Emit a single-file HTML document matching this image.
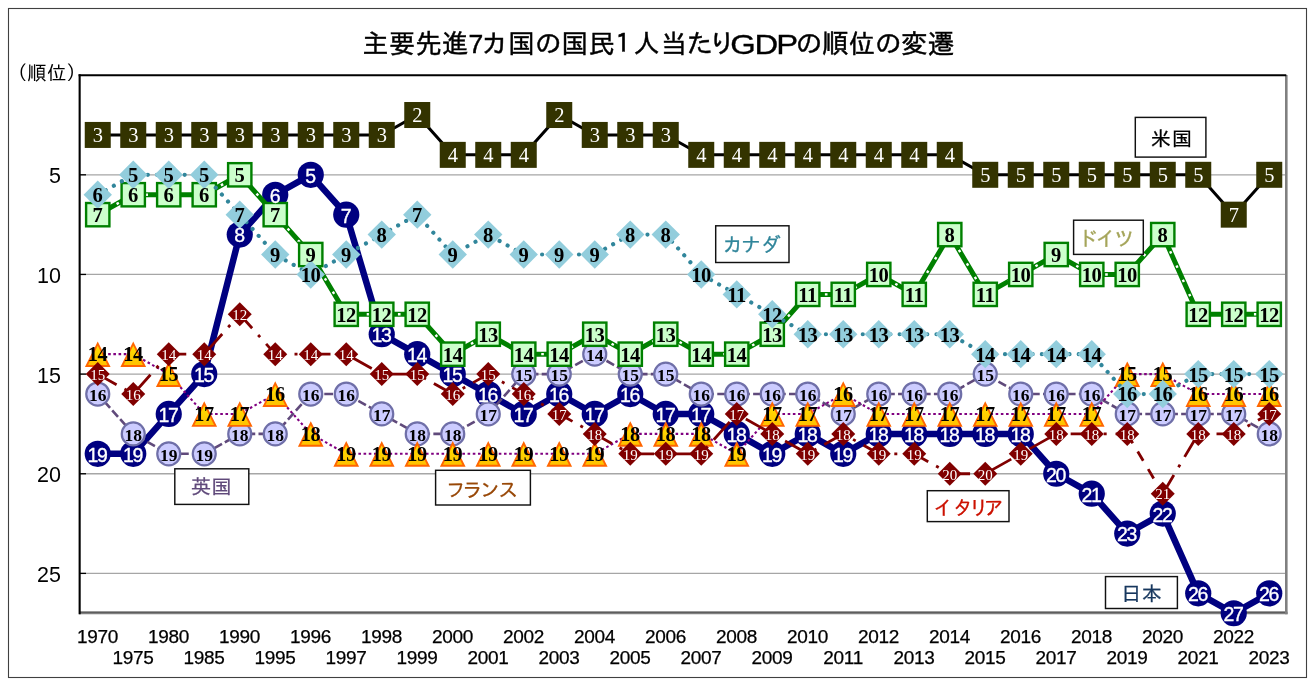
<!DOCTYPE html>
<html lang="ja"><head><meta charset="utf-8">
<title>主要先進7カ国の国民１人当たりGDPの順位の変遷</title>
<style>
html,body{margin:0;padding:0;background:#fff;}
body{width:1312px;height:682px;overflow:hidden;}
svg{display:block;}
text{font-family:"Liberation Sans","IPAGothic",sans-serif;}
.ser{font-family:"Liberation Serif",serif;}
.serb{font-family:"Liberation Serif",serif;font-weight:bold;}
.san{font-family:"Liberation Sans",sans-serif;}
.jp{font-family:"Liberation Sans","IPAGothic",sans-serif;}
</style></head><body>
<svg width="1312" height="682" viewBox="0 0 1312 682">
<rect x="0" y="0" width="1312" height="682" fill="#fff"/>
<rect x="8.5" y="8.5" width="1298" height="669" fill="none" stroke="#404040" stroke-width="1.1"/>
<g id="chart-title"><text class="jp" x="375.4 402 428.6 455 475.8 494.7 521.3 547.9 574.5 601.7 622.9 646.5 673.7 699.7 722.1" y="53.4" font-size="26.5" text-anchor="middle" fill="#000" stroke="#000" stroke-width="0.45">主要先進7カ国の国民１人当たり</text><text class="san" transform="translate(0,53.5) scale(1.24,1.07)" x="599.19 617.98 634.76" y="0" font-size="26.5" text-anchor="middle" fill="#000" stroke="#000" stroke-width="0.3">GDP</text><text class="jp" x="808.7 835.5 861.8 888.1 914.2 940.7" y="53.4" font-size="26.5" text-anchor="middle" fill="#000" stroke="#000" stroke-width="0.45">の順位の変遷</text></g>
<text class="jp" x="46.7" y="80.3" font-size="19.5" text-anchor="middle" fill="#000">（順位）</text>
<line x1="80" y1="174.8" x2="1286.5" y2="174.8" stroke="#a6a6a6" stroke-width="1.3"/>
<line x1="80" y1="174.8" x2="86" y2="174.8" stroke="#000" stroke-width="1.3"/>
<text class="san" x="61" y="183.4" font-size="21.5" text-anchor="end" fill="#000">5</text>
<line x1="80" y1="274.45" x2="1286.5" y2="274.45" stroke="#a6a6a6" stroke-width="1.3"/>
<line x1="80" y1="274.45" x2="86" y2="274.45" stroke="#000" stroke-width="1.3"/>
<text class="san" x="61" y="283.05" font-size="21.5" text-anchor="end" fill="#000">10</text>
<line x1="80" y1="374.1" x2="1286.5" y2="374.1" stroke="#a6a6a6" stroke-width="1.3"/>
<line x1="80" y1="374.1" x2="86" y2="374.1" stroke="#000" stroke-width="1.3"/>
<text class="san" x="61" y="382.7" font-size="21.5" text-anchor="end" fill="#000">15</text>
<line x1="80" y1="473.75" x2="1286.5" y2="473.75" stroke="#a6a6a6" stroke-width="1.3"/>
<line x1="80" y1="473.75" x2="86" y2="473.75" stroke="#000" stroke-width="1.3"/>
<text class="san" x="61" y="482.35" font-size="21.5" text-anchor="end" fill="#000">20</text>
<line x1="80" y1="573.4" x2="1286.5" y2="573.4" stroke="#a6a6a6" stroke-width="1.3"/>
<line x1="80" y1="573.4" x2="86" y2="573.4" stroke="#000" stroke-width="1.3"/>
<text class="san" x="61" y="582" font-size="21.5" text-anchor="end" fill="#000">25</text>
<line x1="1286.3" y1="75" x2="1286.3" y2="614.3" stroke="#808080" stroke-width="2.6"/>
<line x1="79" y1="613" x2="1287.6" y2="613" stroke="#808080" stroke-width="2.6"/>
<line x1="79" y1="612" x2="1285" y2="612" stroke="#202020" stroke-width="0.9" stroke-opacity="0.8"/>
<line x1="78.6" y1="75.3" x2="1286.3" y2="75.3" stroke="#000" stroke-width="2.1"/>
<line x1="79.65" y1="74.3" x2="79.65" y2="614.3" stroke="#000" stroke-width="2.1"/>
<text class="san" x="97.6" y="643" font-size="19" letter-spacing="-0.3" text-anchor="middle" fill="#000" stroke="#000" stroke-width="0.25">1970</text>
<text class="san" x="133.1" y="663.7" font-size="19" letter-spacing="-0.3" text-anchor="middle" fill="#000" stroke="#000" stroke-width="0.25">1975</text>
<text class="san" x="168.6" y="643" font-size="19" letter-spacing="-0.3" text-anchor="middle" fill="#000" stroke="#000" stroke-width="0.25">1980</text>
<text class="san" x="204.1" y="663.7" font-size="19" letter-spacing="-0.3" text-anchor="middle" fill="#000" stroke="#000" stroke-width="0.25">1985</text>
<text class="san" x="239.6" y="643" font-size="19" letter-spacing="-0.3" text-anchor="middle" fill="#000" stroke="#000" stroke-width="0.25">1990</text>
<text class="san" x="275.1" y="663.7" font-size="19" letter-spacing="-0.3" text-anchor="middle" fill="#000" stroke="#000" stroke-width="0.25">1995</text>
<text class="san" x="310.6" y="643" font-size="19" letter-spacing="-0.3" text-anchor="middle" fill="#000" stroke="#000" stroke-width="0.25">1996</text>
<text class="san" x="346.1" y="663.7" font-size="19" letter-spacing="-0.3" text-anchor="middle" fill="#000" stroke="#000" stroke-width="0.25">1997</text>
<text class="san" x="381.6" y="643" font-size="19" letter-spacing="-0.3" text-anchor="middle" fill="#000" stroke="#000" stroke-width="0.25">1998</text>
<text class="san" x="417.1" y="663.7" font-size="19" letter-spacing="-0.3" text-anchor="middle" fill="#000" stroke="#000" stroke-width="0.25">1999</text>
<text class="san" x="452.6" y="643" font-size="19" letter-spacing="-0.3" text-anchor="middle" fill="#000" stroke="#000" stroke-width="0.25">2000</text>
<text class="san" x="488.1" y="663.7" font-size="19" letter-spacing="-0.3" text-anchor="middle" fill="#000" stroke="#000" stroke-width="0.25">2001</text>
<text class="san" x="523.6" y="643" font-size="19" letter-spacing="-0.3" text-anchor="middle" fill="#000" stroke="#000" stroke-width="0.25">2002</text>
<text class="san" x="559.1" y="663.7" font-size="19" letter-spacing="-0.3" text-anchor="middle" fill="#000" stroke="#000" stroke-width="0.25">2003</text>
<text class="san" x="594.6" y="643" font-size="19" letter-spacing="-0.3" text-anchor="middle" fill="#000" stroke="#000" stroke-width="0.25">2004</text>
<text class="san" x="630.1" y="663.7" font-size="19" letter-spacing="-0.3" text-anchor="middle" fill="#000" stroke="#000" stroke-width="0.25">2005</text>
<text class="san" x="665.6" y="643" font-size="19" letter-spacing="-0.3" text-anchor="middle" fill="#000" stroke="#000" stroke-width="0.25">2006</text>
<text class="san" x="701.1" y="663.7" font-size="19" letter-spacing="-0.3" text-anchor="middle" fill="#000" stroke="#000" stroke-width="0.25">2007</text>
<text class="san" x="736.6" y="643" font-size="19" letter-spacing="-0.3" text-anchor="middle" fill="#000" stroke="#000" stroke-width="0.25">2008</text>
<text class="san" x="772.1" y="663.7" font-size="19" letter-spacing="-0.3" text-anchor="middle" fill="#000" stroke="#000" stroke-width="0.25">2009</text>
<text class="san" x="807.6" y="643" font-size="19" letter-spacing="-0.3" text-anchor="middle" fill="#000" stroke="#000" stroke-width="0.25">2010</text>
<text class="san" x="843.1" y="663.7" font-size="19" letter-spacing="-0.3" text-anchor="middle" fill="#000" stroke="#000" stroke-width="0.25">2011</text>
<text class="san" x="878.6" y="643" font-size="19" letter-spacing="-0.3" text-anchor="middle" fill="#000" stroke="#000" stroke-width="0.25">2012</text>
<text class="san" x="914.1" y="663.7" font-size="19" letter-spacing="-0.3" text-anchor="middle" fill="#000" stroke="#000" stroke-width="0.25">2013</text>
<text class="san" x="949.6" y="643" font-size="19" letter-spacing="-0.3" text-anchor="middle" fill="#000" stroke="#000" stroke-width="0.25">2014</text>
<text class="san" x="985.1" y="663.7" font-size="19" letter-spacing="-0.3" text-anchor="middle" fill="#000" stroke="#000" stroke-width="0.25">2015</text>
<text class="san" x="1020.6" y="643" font-size="19" letter-spacing="-0.3" text-anchor="middle" fill="#000" stroke="#000" stroke-width="0.25">2016</text>
<text class="san" x="1056.1" y="663.7" font-size="19" letter-spacing="-0.3" text-anchor="middle" fill="#000" stroke="#000" stroke-width="0.25">2017</text>
<text class="san" x="1091.6" y="643" font-size="19" letter-spacing="-0.3" text-anchor="middle" fill="#000" stroke="#000" stroke-width="0.25">2018</text>
<text class="san" x="1127.1" y="663.7" font-size="19" letter-spacing="-0.3" text-anchor="middle" fill="#000" stroke="#000" stroke-width="0.25">2019</text>
<text class="san" x="1162.6" y="643" font-size="19" letter-spacing="-0.3" text-anchor="middle" fill="#000" stroke="#000" stroke-width="0.25">2020</text>
<text class="san" x="1198.1" y="663.7" font-size="19" letter-spacing="-0.3" text-anchor="middle" fill="#000" stroke="#000" stroke-width="0.25">2021</text>
<text class="san" x="1233.6" y="643" font-size="19" letter-spacing="-0.3" text-anchor="middle" fill="#000" stroke="#000" stroke-width="0.25">2022</text>
<text class="san" x="1269.1" y="663.7" font-size="19" letter-spacing="-0.3" text-anchor="middle" fill="#000" stroke="#000" stroke-width="0.25">2023</text>
<g id="jp">
<polyline points="97.75,453.82 133.25,453.82 168.75,413.96 204.25,374.1 239.75,234.59 275.25,194.73 310.75,174.8 346.25,214.66 381.75,334.24 417.25,354.17 452.75,374.1 488.25,394.03 523.75,413.96 559.25,394.03 594.75,413.96 630.25,394.03 665.75,413.96 701.25,413.96 736.75,433.89 772.25,453.82 807.75,433.89 843.25,453.82 878.75,433.89 914.25,433.89 949.75,433.89 985.25,433.89 1020.75,433.89 1056.25,473.75 1091.75,493.68 1127.25,533.54 1162.75,513.61 1198.25,593.33 1233.75,613.26 1269.25,593.33" fill="none" stroke="#000080" stroke-width="6.5" stroke-linejoin="round"/>
<circle cx="97.75" cy="453.82" r="13.1" fill="#000080"/>
<circle cx="133.25" cy="453.82" r="13.1" fill="#000080"/>
<circle cx="168.75" cy="413.96" r="13.1" fill="#000080"/>
<circle cx="204.25" cy="374.1" r="13.1" fill="#000080"/>
<circle cx="239.75" cy="234.59" r="13.1" fill="#000080"/>
<circle cx="275.25" cy="194.73" r="13.1" fill="#000080"/>
<circle cx="310.75" cy="174.8" r="13.1" fill="#000080"/>
<circle cx="346.25" cy="214.66" r="13.1" fill="#000080"/>
<circle cx="381.75" cy="334.24" r="13.1" fill="#000080"/>
<circle cx="417.25" cy="354.17" r="13.1" fill="#000080"/>
<circle cx="452.75" cy="374.1" r="13.1" fill="#000080"/>
<circle cx="488.25" cy="394.03" r="13.1" fill="#000080"/>
<circle cx="523.75" cy="413.96" r="13.1" fill="#000080"/>
<circle cx="559.25" cy="394.03" r="13.1" fill="#000080"/>
<circle cx="594.75" cy="413.96" r="13.1" fill="#000080"/>
<circle cx="630.25" cy="394.03" r="13.1" fill="#000080"/>
<circle cx="665.75" cy="413.96" r="13.1" fill="#000080"/>
<circle cx="701.25" cy="413.96" r="13.1" fill="#000080"/>
<circle cx="736.75" cy="433.89" r="13.1" fill="#000080"/>
<circle cx="772.25" cy="453.82" r="13.1" fill="#000080"/>
<circle cx="807.75" cy="433.89" r="13.1" fill="#000080"/>
<circle cx="843.25" cy="453.82" r="13.1" fill="#000080"/>
<circle cx="878.75" cy="433.89" r="13.1" fill="#000080"/>
<circle cx="914.25" cy="433.89" r="13.1" fill="#000080"/>
<circle cx="949.75" cy="433.89" r="13.1" fill="#000080"/>
<circle cx="985.25" cy="433.89" r="13.1" fill="#000080"/>
<circle cx="1020.75" cy="433.89" r="13.1" fill="#000080"/>
<circle cx="1056.25" cy="473.75" r="13.1" fill="#000080"/>
<circle cx="1091.75" cy="493.68" r="13.1" fill="#000080"/>
<circle cx="1127.25" cy="533.54" r="13.1" fill="#000080"/>
<circle cx="1162.75" cy="513.61" r="13.1" fill="#000080"/>
<circle cx="1198.25" cy="593.33" r="13.1" fill="#000080"/>
<circle cx="1233.75" cy="613.26" r="13.1" fill="#000080"/>
<circle cx="1269.25" cy="593.33" r="13.1" fill="#000080"/>
</g>
<g id="uk">
<polyline points="97.75,394.03 133.25,433.89 168.75,453.82 204.25,453.82 239.75,433.89 275.25,433.89 310.75,394.03 346.25,394.03 381.75,413.96 417.25,433.89 452.75,433.89 488.25,413.96 523.75,374.1 559.25,374.1 594.75,354.17 630.25,374.1 665.75,374.1 701.25,394.03 736.75,394.03 772.25,394.03 807.75,394.03 843.25,413.96 878.75,394.03 914.25,394.03 949.75,394.03 985.25,374.1 1020.75,394.03 1056.25,394.03 1091.75,394.03 1127.25,413.96 1162.75,413.96 1198.25,413.96 1233.75,413.96 1269.25,433.89" fill="none" stroke="#604a7b" stroke-width="2.6" stroke-dasharray="8.7 3.25" stroke-dashoffset="2.15"/>
<circle cx="97.75" cy="394.03" r="11.5" fill="#ccccff" stroke="#6f6fa8" stroke-width="2.2"/>
<circle cx="133.25" cy="433.89" r="11.5" fill="#ccccff" stroke="#6f6fa8" stroke-width="2.2"/>
<circle cx="168.75" cy="453.82" r="11.5" fill="#ccccff" stroke="#6f6fa8" stroke-width="2.2"/>
<circle cx="204.25" cy="453.82" r="11.5" fill="#ccccff" stroke="#6f6fa8" stroke-width="2.2"/>
<circle cx="239.75" cy="433.89" r="11.5" fill="#ccccff" stroke="#6f6fa8" stroke-width="2.2"/>
<circle cx="275.25" cy="433.89" r="11.5" fill="#ccccff" stroke="#6f6fa8" stroke-width="2.2"/>
<circle cx="310.75" cy="394.03" r="11.5" fill="#ccccff" stroke="#6f6fa8" stroke-width="2.2"/>
<circle cx="346.25" cy="394.03" r="11.5" fill="#ccccff" stroke="#6f6fa8" stroke-width="2.2"/>
<circle cx="381.75" cy="413.96" r="11.5" fill="#ccccff" stroke="#6f6fa8" stroke-width="2.2"/>
<circle cx="417.25" cy="433.89" r="11.5" fill="#ccccff" stroke="#6f6fa8" stroke-width="2.2"/>
<circle cx="452.75" cy="433.89" r="11.5" fill="#ccccff" stroke="#6f6fa8" stroke-width="2.2"/>
<circle cx="488.25" cy="413.96" r="11.5" fill="#ccccff" stroke="#6f6fa8" stroke-width="2.2"/>
<circle cx="523.75" cy="374.1" r="11.5" fill="#ccccff" stroke="#6f6fa8" stroke-width="2.2"/>
<circle cx="559.25" cy="374.1" r="11.5" fill="#ccccff" stroke="#6f6fa8" stroke-width="2.2"/>
<circle cx="594.75" cy="354.17" r="11.5" fill="#ccccff" stroke="#6f6fa8" stroke-width="2.2"/>
<circle cx="630.25" cy="374.1" r="11.5" fill="#ccccff" stroke="#6f6fa8" stroke-width="2.2"/>
<circle cx="665.75" cy="374.1" r="11.5" fill="#ccccff" stroke="#6f6fa8" stroke-width="2.2"/>
<circle cx="701.25" cy="394.03" r="11.5" fill="#ccccff" stroke="#6f6fa8" stroke-width="2.2"/>
<circle cx="736.75" cy="394.03" r="11.5" fill="#ccccff" stroke="#6f6fa8" stroke-width="2.2"/>
<circle cx="772.25" cy="394.03" r="11.5" fill="#ccccff" stroke="#6f6fa8" stroke-width="2.2"/>
<circle cx="807.75" cy="394.03" r="11.5" fill="#ccccff" stroke="#6f6fa8" stroke-width="2.2"/>
<circle cx="843.25" cy="413.96" r="11.5" fill="#ccccff" stroke="#6f6fa8" stroke-width="2.2"/>
<circle cx="878.75" cy="394.03" r="11.5" fill="#ccccff" stroke="#6f6fa8" stroke-width="2.2"/>
<circle cx="914.25" cy="394.03" r="11.5" fill="#ccccff" stroke="#6f6fa8" stroke-width="2.2"/>
<circle cx="949.75" cy="394.03" r="11.5" fill="#ccccff" stroke="#6f6fa8" stroke-width="2.2"/>
<circle cx="985.25" cy="374.1" r="11.5" fill="#ccccff" stroke="#6f6fa8" stroke-width="2.2"/>
<circle cx="1020.75" cy="394.03" r="11.5" fill="#ccccff" stroke="#6f6fa8" stroke-width="2.2"/>
<circle cx="1056.25" cy="394.03" r="11.5" fill="#ccccff" stroke="#6f6fa8" stroke-width="2.2"/>
<circle cx="1091.75" cy="394.03" r="11.5" fill="#ccccff" stroke="#6f6fa8" stroke-width="2.2"/>
<circle cx="1127.25" cy="413.96" r="11.5" fill="#ccccff" stroke="#6f6fa8" stroke-width="2.2"/>
<circle cx="1162.75" cy="413.96" r="11.5" fill="#ccccff" stroke="#6f6fa8" stroke-width="2.2"/>
<circle cx="1198.25" cy="413.96" r="11.5" fill="#ccccff" stroke="#6f6fa8" stroke-width="2.2"/>
<circle cx="1233.75" cy="413.96" r="11.5" fill="#ccccff" stroke="#6f6fa8" stroke-width="2.2"/>
<circle cx="1269.25" cy="433.89" r="11.5" fill="#ccccff" stroke="#6f6fa8" stroke-width="2.2"/>
</g>
<defs><linearGradient id="gfr" x1="0" y1="0" x2="0" y2="1"><stop offset="0" stop-color="#ffe100"/><stop offset="1" stop-color="#ffc000"/></linearGradient></defs>
<g id="fr">
<polyline points="97.75,354.17 133.25,354.17 168.75,374.1 204.25,413.96 239.75,413.96 275.25,394.03 310.75,433.89 346.25,453.82 381.75,453.82 417.25,453.82 452.75,453.82 488.25,453.82 523.75,453.82 559.25,453.82 594.75,453.82 630.25,433.89 665.75,433.89 701.25,433.89 736.75,453.82 772.25,413.96 807.75,413.96 843.25,394.03 878.75,413.96 914.25,413.96 949.75,413.96 985.25,413.96 1020.75,413.96 1056.25,413.96 1091.75,413.96 1127.25,374.1 1162.75,374.1 1198.25,394.03 1233.75,394.03 1269.25,394.03" fill="none" stroke="#800080" stroke-width="2.1" stroke-dasharray="2.6 2.6"/>
<polygon points="97.75,343.57 109.05,366.07 86.45,366.07" fill="url(#gfr)" stroke="#ff6600" stroke-width="1.9" stroke-linejoin="miter"/>
<polygon points="133.25,343.57 144.55,366.07 121.95,366.07" fill="url(#gfr)" stroke="#ff6600" stroke-width="1.9" stroke-linejoin="miter"/>
<polygon points="168.75,363.5 180.05,386 157.45,386" fill="url(#gfr)" stroke="#ff6600" stroke-width="1.9" stroke-linejoin="miter"/>
<polygon points="204.25,403.36 215.55,425.86 192.95,425.86" fill="url(#gfr)" stroke="#ff6600" stroke-width="1.9" stroke-linejoin="miter"/>
<polygon points="239.75,403.36 251.05,425.86 228.45,425.86" fill="url(#gfr)" stroke="#ff6600" stroke-width="1.9" stroke-linejoin="miter"/>
<polygon points="275.25,383.43 286.55,405.93 263.95,405.93" fill="url(#gfr)" stroke="#ff6600" stroke-width="1.9" stroke-linejoin="miter"/>
<polygon points="310.75,423.29 322.05,445.79 299.45,445.79" fill="url(#gfr)" stroke="#ff6600" stroke-width="1.9" stroke-linejoin="miter"/>
<polygon points="346.25,443.22 357.55,465.72 334.95,465.72" fill="url(#gfr)" stroke="#ff6600" stroke-width="1.9" stroke-linejoin="miter"/>
<polygon points="381.75,443.22 393.05,465.72 370.45,465.72" fill="url(#gfr)" stroke="#ff6600" stroke-width="1.9" stroke-linejoin="miter"/>
<polygon points="417.25,443.22 428.55,465.72 405.95,465.72" fill="url(#gfr)" stroke="#ff6600" stroke-width="1.9" stroke-linejoin="miter"/>
<polygon points="452.75,443.22 464.05,465.72 441.45,465.72" fill="url(#gfr)" stroke="#ff6600" stroke-width="1.9" stroke-linejoin="miter"/>
<polygon points="488.25,443.22 499.55,465.72 476.95,465.72" fill="url(#gfr)" stroke="#ff6600" stroke-width="1.9" stroke-linejoin="miter"/>
<polygon points="523.75,443.22 535.05,465.72 512.45,465.72" fill="url(#gfr)" stroke="#ff6600" stroke-width="1.9" stroke-linejoin="miter"/>
<polygon points="559.25,443.22 570.55,465.72 547.95,465.72" fill="url(#gfr)" stroke="#ff6600" stroke-width="1.9" stroke-linejoin="miter"/>
<polygon points="594.75,443.22 606.05,465.72 583.45,465.72" fill="url(#gfr)" stroke="#ff6600" stroke-width="1.9" stroke-linejoin="miter"/>
<polygon points="630.25,423.29 641.55,445.79 618.95,445.79" fill="url(#gfr)" stroke="#ff6600" stroke-width="1.9" stroke-linejoin="miter"/>
<polygon points="665.75,423.29 677.05,445.79 654.45,445.79" fill="url(#gfr)" stroke="#ff6600" stroke-width="1.9" stroke-linejoin="miter"/>
<polygon points="701.25,423.29 712.55,445.79 689.95,445.79" fill="url(#gfr)" stroke="#ff6600" stroke-width="1.9" stroke-linejoin="miter"/>
<polygon points="736.75,443.22 748.05,465.72 725.45,465.72" fill="url(#gfr)" stroke="#ff6600" stroke-width="1.9" stroke-linejoin="miter"/>
<polygon points="772.25,403.36 783.55,425.86 760.95,425.86" fill="url(#gfr)" stroke="#ff6600" stroke-width="1.9" stroke-linejoin="miter"/>
<polygon points="807.75,403.36 819.05,425.86 796.45,425.86" fill="url(#gfr)" stroke="#ff6600" stroke-width="1.9" stroke-linejoin="miter"/>
<polygon points="843.25,383.43 854.55,405.93 831.95,405.93" fill="url(#gfr)" stroke="#ff6600" stroke-width="1.9" stroke-linejoin="miter"/>
<polygon points="878.75,403.36 890.05,425.86 867.45,425.86" fill="url(#gfr)" stroke="#ff6600" stroke-width="1.9" stroke-linejoin="miter"/>
<polygon points="914.25,403.36 925.55,425.86 902.95,425.86" fill="url(#gfr)" stroke="#ff6600" stroke-width="1.9" stroke-linejoin="miter"/>
<polygon points="949.75,403.36 961.05,425.86 938.45,425.86" fill="url(#gfr)" stroke="#ff6600" stroke-width="1.9" stroke-linejoin="miter"/>
<polygon points="985.25,403.36 996.55,425.86 973.95,425.86" fill="url(#gfr)" stroke="#ff6600" stroke-width="1.9" stroke-linejoin="miter"/>
<polygon points="1020.75,403.36 1032.05,425.86 1009.45,425.86" fill="url(#gfr)" stroke="#ff6600" stroke-width="1.9" stroke-linejoin="miter"/>
<polygon points="1056.25,403.36 1067.55,425.86 1044.95,425.86" fill="url(#gfr)" stroke="#ff6600" stroke-width="1.9" stroke-linejoin="miter"/>
<polygon points="1091.75,403.36 1103.05,425.86 1080.45,425.86" fill="url(#gfr)" stroke="#ff6600" stroke-width="1.9" stroke-linejoin="miter"/>
<polygon points="1127.25,363.5 1138.55,386 1115.95,386" fill="url(#gfr)" stroke="#ff6600" stroke-width="1.9" stroke-linejoin="miter"/>
<polygon points="1162.75,363.5 1174.05,386 1151.45,386" fill="url(#gfr)" stroke="#ff6600" stroke-width="1.9" stroke-linejoin="miter"/>
<polygon points="1198.25,383.43 1209.55,405.93 1186.95,405.93" fill="url(#gfr)" stroke="#ff6600" stroke-width="1.9" stroke-linejoin="miter"/>
<polygon points="1233.75,383.43 1245.05,405.93 1222.45,405.93" fill="url(#gfr)" stroke="#ff6600" stroke-width="1.9" stroke-linejoin="miter"/>
<polygon points="1269.25,383.43 1280.55,405.93 1257.95,405.93" fill="url(#gfr)" stroke="#ff6600" stroke-width="1.9" stroke-linejoin="miter"/>
</g>
<g id="it">
<polyline points="97.75,374.1 133.25,394.03 168.75,354.17 204.25,354.17 239.75,314.31 275.25,354.17 310.75,354.17 346.25,354.17 381.75,374.1 417.25,374.1 452.75,394.03 488.25,374.1 523.75,394.03 559.25,413.96 594.75,433.89 630.25,453.82 665.75,453.82 701.25,453.82 736.75,413.96 772.25,433.89 807.75,453.82 843.25,433.89 878.75,453.82 914.25,453.82 949.75,473.75 985.25,473.75 1020.75,453.82 1056.25,433.89 1091.75,433.89 1127.25,433.89" fill="none" stroke="#800000" stroke-width="2.8" stroke-dasharray="24 9 3 9" stroke-dashoffset="2.4"/>
<polyline points="1127.25,433.89 1162.75,493.68" fill="none" stroke="#800000" stroke-width="2.8" stroke-dasharray="10.8 9.7"/>
<polyline points="1162.75,493.68 1198.25,433.89 1233.75,433.89 1269.25,413.96" fill="none" stroke="#800000" stroke-width="2.8" stroke-dasharray="24 9 3 9" stroke-dashoffset="2.2"/>
<polygon points="97.75,362.1 109.75,374.1 97.75,386.1 85.75,374.1" fill="#800000"/>
<polygon points="133.25,382.03 145.25,394.03 133.25,406.03 121.25,394.03" fill="#800000"/>
<polygon points="168.75,342.17 180.75,354.17 168.75,366.17 156.75,354.17" fill="#800000"/>
<polygon points="204.25,342.17 216.25,354.17 204.25,366.17 192.25,354.17" fill="#800000"/>
<polygon points="239.75,302.31 251.75,314.31 239.75,326.31 227.75,314.31" fill="#800000"/>
<polygon points="275.25,342.17 287.25,354.17 275.25,366.17 263.25,354.17" fill="#800000"/>
<polygon points="310.75,342.17 322.75,354.17 310.75,366.17 298.75,354.17" fill="#800000"/>
<polygon points="346.25,342.17 358.25,354.17 346.25,366.17 334.25,354.17" fill="#800000"/>
<polygon points="381.75,362.1 393.75,374.1 381.75,386.1 369.75,374.1" fill="#800000"/>
<polygon points="417.25,362.1 429.25,374.1 417.25,386.1 405.25,374.1" fill="#800000"/>
<polygon points="452.75,382.03 464.75,394.03 452.75,406.03 440.75,394.03" fill="#800000"/>
<polygon points="488.25,362.1 500.25,374.1 488.25,386.1 476.25,374.1" fill="#800000"/>
<polygon points="523.75,382.03 535.75,394.03 523.75,406.03 511.75,394.03" fill="#800000"/>
<polygon points="559.25,401.96 571.25,413.96 559.25,425.96 547.25,413.96" fill="#800000"/>
<polygon points="594.75,421.89 606.75,433.89 594.75,445.89 582.75,433.89" fill="#800000"/>
<polygon points="630.25,441.82 642.25,453.82 630.25,465.82 618.25,453.82" fill="#800000"/>
<polygon points="665.75,441.82 677.75,453.82 665.75,465.82 653.75,453.82" fill="#800000"/>
<polygon points="701.25,441.82 713.25,453.82 701.25,465.82 689.25,453.82" fill="#800000"/>
<polygon points="736.75,401.96 748.75,413.96 736.75,425.96 724.75,413.96" fill="#800000"/>
<polygon points="772.25,421.89 784.25,433.89 772.25,445.89 760.25,433.89" fill="#800000"/>
<polygon points="807.75,441.82 819.75,453.82 807.75,465.82 795.75,453.82" fill="#800000"/>
<polygon points="843.25,421.89 855.25,433.89 843.25,445.89 831.25,433.89" fill="#800000"/>
<polygon points="878.75,441.82 890.75,453.82 878.75,465.82 866.75,453.82" fill="#800000"/>
<polygon points="914.25,441.82 926.25,453.82 914.25,465.82 902.25,453.82" fill="#800000"/>
<polygon points="949.75,461.75 961.75,473.75 949.75,485.75 937.75,473.75" fill="#800000"/>
<polygon points="985.25,461.75 997.25,473.75 985.25,485.75 973.25,473.75" fill="#800000"/>
<polygon points="1020.75,441.82 1032.75,453.82 1020.75,465.82 1008.75,453.82" fill="#800000"/>
<polygon points="1056.25,421.89 1068.25,433.89 1056.25,445.89 1044.25,433.89" fill="#800000"/>
<polygon points="1091.75,421.89 1103.75,433.89 1091.75,445.89 1079.75,433.89" fill="#800000"/>
<polygon points="1127.25,421.89 1139.25,433.89 1127.25,445.89 1115.25,433.89" fill="#800000"/>
<polygon points="1162.75,481.68 1174.75,493.68 1162.75,505.68 1150.75,493.68" fill="#800000"/>
<polygon points="1198.25,421.89 1210.25,433.89 1198.25,445.89 1186.25,433.89" fill="#800000"/>
<polygon points="1233.75,421.89 1245.75,433.89 1233.75,445.89 1221.75,433.89" fill="#800000"/>
<polygon points="1269.25,401.96 1281.25,413.96 1269.25,425.96 1257.25,413.96" fill="#800000"/>
</g>
<g id="de">
<polyline points="97.75,214.66 133.25,194.73 168.75,194.73 204.25,194.73 239.75,174.8 275.25,214.66 310.75,254.52 346.25,314.31 381.75,314.31 417.25,314.31 452.75,354.17 488.25,334.24 523.75,354.17 559.25,354.17 594.75,334.24 630.25,354.17 665.75,334.24 701.25,354.17 736.75,354.17 772.25,334.24 807.75,294.38 843.25,294.38 878.75,274.45 914.25,294.38 949.75,234.59 985.25,294.38 1020.75,274.45 1056.25,254.52 1091.75,274.45 1127.25,274.45 1162.75,234.59 1198.25,314.31 1233.75,314.31 1269.25,314.31" fill="none" stroke="#008000" stroke-width="5" stroke-linejoin="round"/>
<polyline points="97.75,214.66 133.25,194.73 168.75,194.73 204.25,194.73 239.75,174.8 275.25,214.66 310.75,254.52 346.25,314.31 381.75,314.31 417.25,314.31 452.75,354.17 488.25,334.24 523.75,354.17 559.25,354.17 594.75,334.24 630.25,354.17 665.75,334.24 701.25,354.17 736.75,354.17 772.25,334.24 807.75,294.38 843.25,294.38 878.75,274.45 914.25,294.38 949.75,234.59 985.25,294.38 1020.75,274.45 1056.25,254.52 1091.75,274.45 1127.25,274.45 1162.75,234.59 1198.25,314.31 1233.75,314.31 1269.25,314.31" fill="none" stroke="#ffffff" stroke-width="2.4" stroke-dasharray="2.6 13" stroke-dashoffset="-6"/>
<rect x="86.1" y="203.01" width="23.3" height="23.3" fill="#ccffcc" stroke="#008000" stroke-width="2.4"/>
<rect x="121.6" y="183.08" width="23.3" height="23.3" fill="#ccffcc" stroke="#008000" stroke-width="2.4"/>
<rect x="157.1" y="183.08" width="23.3" height="23.3" fill="#ccffcc" stroke="#008000" stroke-width="2.4"/>
<rect x="192.6" y="183.08" width="23.3" height="23.3" fill="#ccffcc" stroke="#008000" stroke-width="2.4"/>
<rect x="228.1" y="163.15" width="23.3" height="23.3" fill="#ccffcc" stroke="#008000" stroke-width="2.4"/>
<rect x="263.6" y="203.01" width="23.3" height="23.3" fill="#ccffcc" stroke="#008000" stroke-width="2.4"/>
<rect x="299.1" y="242.87" width="23.3" height="23.3" fill="#ccffcc" stroke="#008000" stroke-width="2.4"/>
<rect x="334.6" y="302.66" width="23.3" height="23.3" fill="#ccffcc" stroke="#008000" stroke-width="2.4"/>
<rect x="370.1" y="302.66" width="23.3" height="23.3" fill="#ccffcc" stroke="#008000" stroke-width="2.4"/>
<rect x="405.6" y="302.66" width="23.3" height="23.3" fill="#ccffcc" stroke="#008000" stroke-width="2.4"/>
<rect x="441.1" y="342.52" width="23.3" height="23.3" fill="#ccffcc" stroke="#008000" stroke-width="2.4"/>
<rect x="476.6" y="322.59" width="23.3" height="23.3" fill="#ccffcc" stroke="#008000" stroke-width="2.4"/>
<rect x="512.1" y="342.52" width="23.3" height="23.3" fill="#ccffcc" stroke="#008000" stroke-width="2.4"/>
<rect x="547.6" y="342.52" width="23.3" height="23.3" fill="#ccffcc" stroke="#008000" stroke-width="2.4"/>
<rect x="583.1" y="322.59" width="23.3" height="23.3" fill="#ccffcc" stroke="#008000" stroke-width="2.4"/>
<rect x="618.6" y="342.52" width="23.3" height="23.3" fill="#ccffcc" stroke="#008000" stroke-width="2.4"/>
<rect x="654.1" y="322.59" width="23.3" height="23.3" fill="#ccffcc" stroke="#008000" stroke-width="2.4"/>
<rect x="689.6" y="342.52" width="23.3" height="23.3" fill="#ccffcc" stroke="#008000" stroke-width="2.4"/>
<rect x="725.1" y="342.52" width="23.3" height="23.3" fill="#ccffcc" stroke="#008000" stroke-width="2.4"/>
<rect x="760.6" y="322.59" width="23.3" height="23.3" fill="#ccffcc" stroke="#008000" stroke-width="2.4"/>
<rect x="796.1" y="282.73" width="23.3" height="23.3" fill="#ccffcc" stroke="#008000" stroke-width="2.4"/>
<rect x="831.6" y="282.73" width="23.3" height="23.3" fill="#ccffcc" stroke="#008000" stroke-width="2.4"/>
<rect x="867.1" y="262.8" width="23.3" height="23.3" fill="#ccffcc" stroke="#008000" stroke-width="2.4"/>
<rect x="902.6" y="282.73" width="23.3" height="23.3" fill="#ccffcc" stroke="#008000" stroke-width="2.4"/>
<rect x="938.1" y="222.94" width="23.3" height="23.3" fill="#ccffcc" stroke="#008000" stroke-width="2.4"/>
<rect x="973.6" y="282.73" width="23.3" height="23.3" fill="#ccffcc" stroke="#008000" stroke-width="2.4"/>
<rect x="1009.1" y="262.8" width="23.3" height="23.3" fill="#ccffcc" stroke="#008000" stroke-width="2.4"/>
<rect x="1044.6" y="242.87" width="23.3" height="23.3" fill="#ccffcc" stroke="#008000" stroke-width="2.4"/>
<rect x="1080.1" y="262.8" width="23.3" height="23.3" fill="#ccffcc" stroke="#008000" stroke-width="2.4"/>
<rect x="1115.6" y="262.8" width="23.3" height="23.3" fill="#ccffcc" stroke="#008000" stroke-width="2.4"/>
<rect x="1151.1" y="222.94" width="23.3" height="23.3" fill="#ccffcc" stroke="#008000" stroke-width="2.4"/>
<rect x="1186.6" y="302.66" width="23.3" height="23.3" fill="#ccffcc" stroke="#008000" stroke-width="2.4"/>
<rect x="1222.1" y="302.66" width="23.3" height="23.3" fill="#ccffcc" stroke="#008000" stroke-width="2.4"/>
<rect x="1257.6" y="302.66" width="23.3" height="23.3" fill="#ccffcc" stroke="#008000" stroke-width="2.4"/>
</g>
<g id="ca">
<polyline points="97.75,194.73 133.25,174.8 168.75,174.8 204.25,174.8 239.75,214.66 275.25,254.52 310.75,274.45 346.25,254.52 381.75,234.59 417.25,214.66 452.75,254.52 488.25,234.59 523.75,254.52 559.25,254.52 594.75,254.52 630.25,234.59 665.75,234.59 701.25,274.45 736.75,294.38 772.25,314.31 807.75,334.24 843.25,334.24 878.75,334.24 914.25,334.24 949.75,334.24 985.25,354.17 1020.75,354.17 1056.25,354.17 1091.75,354.17 1127.25,394.03 1162.75,394.03 1198.25,374.1 1233.75,374.1 1269.25,374.1" fill="none" stroke="#31869b" stroke-width="4.2" stroke-linecap="round" stroke-dasharray="0.01 9.205"/>
<polygon points="97.75,180.53 111.95,194.73 97.75,208.93 83.55,194.73" fill="#92cddc"/>
<polygon points="133.25,160.6 147.45,174.8 133.25,189 119.05,174.8" fill="#92cddc"/>
<polygon points="168.75,160.6 182.95,174.8 168.75,189 154.55,174.8" fill="#92cddc"/>
<polygon points="204.25,160.6 218.45,174.8 204.25,189 190.05,174.8" fill="#92cddc"/>
<polygon points="239.75,200.46 253.95,214.66 239.75,228.86 225.55,214.66" fill="#92cddc"/>
<polygon points="275.25,240.32 289.45,254.52 275.25,268.72 261.05,254.52" fill="#92cddc"/>
<polygon points="310.75,260.25 324.95,274.45 310.75,288.65 296.55,274.45" fill="#92cddc"/>
<polygon points="346.25,240.32 360.45,254.52 346.25,268.72 332.05,254.52" fill="#92cddc"/>
<polygon points="381.75,220.39 395.95,234.59 381.75,248.79 367.55,234.59" fill="#92cddc"/>
<polygon points="417.25,200.46 431.45,214.66 417.25,228.86 403.05,214.66" fill="#92cddc"/>
<polygon points="452.75,240.32 466.95,254.52 452.75,268.72 438.55,254.52" fill="#92cddc"/>
<polygon points="488.25,220.39 502.45,234.59 488.25,248.79 474.05,234.59" fill="#92cddc"/>
<polygon points="523.75,240.32 537.95,254.52 523.75,268.72 509.55,254.52" fill="#92cddc"/>
<polygon points="559.25,240.32 573.45,254.52 559.25,268.72 545.05,254.52" fill="#92cddc"/>
<polygon points="594.75,240.32 608.95,254.52 594.75,268.72 580.55,254.52" fill="#92cddc"/>
<polygon points="630.25,220.39 644.45,234.59 630.25,248.79 616.05,234.59" fill="#92cddc"/>
<polygon points="665.75,220.39 679.95,234.59 665.75,248.79 651.55,234.59" fill="#92cddc"/>
<polygon points="701.25,260.25 715.45,274.45 701.25,288.65 687.05,274.45" fill="#92cddc"/>
<polygon points="736.75,280.18 750.95,294.38 736.75,308.58 722.55,294.38" fill="#92cddc"/>
<polygon points="772.25,300.11 786.45,314.31 772.25,328.51 758.05,314.31" fill="#92cddc"/>
<polygon points="807.75,320.04 821.95,334.24 807.75,348.44 793.55,334.24" fill="#92cddc"/>
<polygon points="843.25,320.04 857.45,334.24 843.25,348.44 829.05,334.24" fill="#92cddc"/>
<polygon points="878.75,320.04 892.95,334.24 878.75,348.44 864.55,334.24" fill="#92cddc"/>
<polygon points="914.25,320.04 928.45,334.24 914.25,348.44 900.05,334.24" fill="#92cddc"/>
<polygon points="949.75,320.04 963.95,334.24 949.75,348.44 935.55,334.24" fill="#92cddc"/>
<polygon points="985.25,339.97 999.45,354.17 985.25,368.37 971.05,354.17" fill="#92cddc"/>
<polygon points="1020.75,339.97 1034.95,354.17 1020.75,368.37 1006.55,354.17" fill="#92cddc"/>
<polygon points="1056.25,339.97 1070.45,354.17 1056.25,368.37 1042.05,354.17" fill="#92cddc"/>
<polygon points="1091.75,339.97 1105.95,354.17 1091.75,368.37 1077.55,354.17" fill="#92cddc"/>
<polygon points="1127.25,379.83 1141.45,394.03 1127.25,408.23 1113.05,394.03" fill="#92cddc"/>
<polygon points="1162.75,379.83 1176.95,394.03 1162.75,408.23 1148.55,394.03" fill="#92cddc"/>
<polygon points="1198.25,359.9 1212.45,374.1 1198.25,388.3 1184.05,374.1" fill="#92cddc"/>
<polygon points="1233.75,359.9 1247.95,374.1 1233.75,388.3 1219.55,374.1" fill="#92cddc"/>
<polygon points="1269.25,359.9 1283.45,374.1 1269.25,388.3 1255.05,374.1" fill="#92cddc"/>
</g>
<g id="us">
<polyline points="97.75,134.94 133.25,134.94 168.75,134.94 204.25,134.94 239.75,134.94 275.25,134.94 310.75,134.94 346.25,134.94 381.75,134.94 417.25,115.01 452.75,154.87 488.25,154.87 523.75,154.87 559.25,115.01 594.75,134.94 630.25,134.94 665.75,134.94 701.25,154.87 736.75,154.87 772.25,154.87 807.75,154.87 843.25,154.87 878.75,154.87 914.25,154.87 949.75,154.87 985.25,174.8 1020.75,174.8 1056.25,174.8 1091.75,174.8 1127.25,174.8 1162.75,174.8 1198.25,174.8 1233.75,214.66 1269.25,174.8" fill="none" stroke="#000" stroke-width="3"/>
<rect x="84.75" y="121.94" width="26" height="26" fill="#333300"/>
<rect x="120.25" y="121.94" width="26" height="26" fill="#333300"/>
<rect x="155.75" y="121.94" width="26" height="26" fill="#333300"/>
<rect x="191.25" y="121.94" width="26" height="26" fill="#333300"/>
<rect x="226.75" y="121.94" width="26" height="26" fill="#333300"/>
<rect x="262.25" y="121.94" width="26" height="26" fill="#333300"/>
<rect x="297.75" y="121.94" width="26" height="26" fill="#333300"/>
<rect x="333.25" y="121.94" width="26" height="26" fill="#333300"/>
<rect x="368.75" y="121.94" width="26" height="26" fill="#333300"/>
<rect x="404.25" y="102.01" width="26" height="26" fill="#333300"/>
<rect x="439.75" y="141.87" width="26" height="26" fill="#333300"/>
<rect x="475.25" y="141.87" width="26" height="26" fill="#333300"/>
<rect x="510.75" y="141.87" width="26" height="26" fill="#333300"/>
<rect x="546.25" y="102.01" width="26" height="26" fill="#333300"/>
<rect x="581.75" y="121.94" width="26" height="26" fill="#333300"/>
<rect x="617.25" y="121.94" width="26" height="26" fill="#333300"/>
<rect x="652.75" y="121.94" width="26" height="26" fill="#333300"/>
<rect x="688.25" y="141.87" width="26" height="26" fill="#333300"/>
<rect x="723.75" y="141.87" width="26" height="26" fill="#333300"/>
<rect x="759.25" y="141.87" width="26" height="26" fill="#333300"/>
<rect x="794.75" y="141.87" width="26" height="26" fill="#333300"/>
<rect x="830.25" y="141.87" width="26" height="26" fill="#333300"/>
<rect x="865.75" y="141.87" width="26" height="26" fill="#333300"/>
<rect x="901.25" y="141.87" width="26" height="26" fill="#333300"/>
<rect x="936.75" y="141.87" width="26" height="26" fill="#333300"/>
<rect x="972.25" y="161.8" width="26" height="26" fill="#333300"/>
<rect x="1007.75" y="161.8" width="26" height="26" fill="#333300"/>
<rect x="1043.25" y="161.8" width="26" height="26" fill="#333300"/>
<rect x="1078.75" y="161.8" width="26" height="26" fill="#333300"/>
<rect x="1114.25" y="161.8" width="26" height="26" fill="#333300"/>
<rect x="1149.75" y="161.8" width="26" height="26" fill="#333300"/>
<rect x="1185.25" y="161.8" width="26" height="26" fill="#333300"/>
<rect x="1220.75" y="201.66" width="26" height="26" fill="#333300"/>
<rect x="1256.25" y="161.8" width="26" height="26" fill="#333300"/>
</g>
<rect x="1135.3" y="117.4" width="70.6" height="39.7" fill="#fff" stroke="#111" stroke-width="1.45"/>
<text class="jp" x="1161 1182.1" y="145.6" font-size="20" text-anchor="middle" fill="#000000" stroke="#000000" stroke-width="0.3">米国</text>
<rect x="715.7" y="225.8" width="73.3" height="36.7" fill="#fff" stroke="#111" stroke-width="1.45"/>
<text class="jp" x="732.5 751 770.8" y="252.4" font-size="20" text-anchor="middle" fill="#31869b" stroke="#31869b" stroke-width="0.3">カナダ</text>
<rect x="1073.6" y="220.2" width="69.7" height="34.2" fill="#fff" stroke="#111" stroke-width="1.45"/>
<text class="jp" x="1087.7 1105.7 1124.3" y="245.52" font-size="20.6" text-anchor="middle" fill="#a5a55a" stroke="#a5a55a" stroke-width="0.3">ドイツ</text>
<rect x="174.8" y="468.8" width="74" height="35.6" fill="#fff" stroke="#111" stroke-width="1.45"/>
<text class="jp" x="200.9 221.6" y="493.8" font-size="20" text-anchor="middle" fill="#604a7b" stroke="#604a7b" stroke-width="0.3">英国</text>
<rect x="435.6" y="470.3" width="94.8" height="34.7" fill="#fff" stroke="#111" stroke-width="1.45"/>
<text class="jp" x="455.65 472.6 489.7 508.3" y="496.75" font-size="20" text-anchor="middle" fill="#984807" stroke="#984807" stroke-width="0.3">フランス</text>
<rect x="927.3" y="490.7" width="81.7" height="30.9" fill="#fff" stroke="#111" stroke-width="1.45"/>
<text class="jp" x="943.6 963.1 978.4 993.6" y="514.9" font-size="20" text-anchor="middle" fill="#cc1100" stroke="#cc1100" stroke-width="0.3">イタリア</text>
<rect x="1105.5" y="576.6" width="71.9" height="31.9" fill="#fff" stroke="#111" stroke-width="1.45"/>
<text class="jp" x="1131.3 1152.1" y="600.8" font-size="20" text-anchor="middle" fill="#17375e" stroke="#17375e" stroke-width="0.3">日本</text>
<g class="san" font-size="19.5" fill="#ffffff" text-anchor="middle" letter-spacing="-1.3" stroke="#ffffff" stroke-width="0.35">
<text class="san" x="97.1" y="461.72">19</text>
<text class="san" x="132.6" y="461.72">19</text>
<text class="san" x="168.1" y="421.86">17</text>
<text class="san" x="203.6" y="382">15</text>
<text class="san" x="239.1" y="242.49">8</text>
<text class="san" x="274.6" y="202.63">6</text>
<text class="san" x="310.1" y="182.7">5</text>
<text class="san" x="345.6" y="222.56">7</text>
<text class="san" x="381.1" y="342.14">13</text>
<text class="san" x="416.6" y="362.07">14</text>
<text class="san" x="452.1" y="382">15</text>
<text class="san" x="487.6" y="401.93">16</text>
<text class="san" x="523.1" y="421.86">17</text>
<text class="san" x="558.6" y="401.93">16</text>
<text class="san" x="594.1" y="421.86">17</text>
<text class="san" x="629.6" y="401.93">16</text>
<text class="san" x="665.1" y="421.86">17</text>
<text class="san" x="700.6" y="421.86">17</text>
<text class="san" x="736.1" y="441.79">18</text>
<text class="san" x="771.6" y="461.72">19</text>
<text class="san" x="807.1" y="441.79">18</text>
<text class="san" x="842.6" y="461.72">19</text>
<text class="san" x="878.1" y="441.79">18</text>
<text class="san" x="913.6" y="441.79">18</text>
<text class="san" x="949.1" y="441.79">18</text>
<text class="san" x="984.6" y="441.79">18</text>
<text class="san" x="1020.1" y="441.79">18</text>
<text class="san" x="1055.6" y="481.65">20</text>
<text class="san" x="1091.1" y="501.58">21</text>
<text class="san" x="1126.6" y="541.44">23</text>
<text class="san" x="1162.1" y="521.51">22</text>
<text class="san" x="1197.6" y="601.23">26</text>
<text class="san" x="1233.1" y="621.16">27</text>
<text class="san" x="1268.6" y="601.23">26</text>
</g>
<g class="serb" font-size="17.5" fill="#000000" text-anchor="middle">
<text class="serb" x="97.75" y="401.03">16</text>
<text class="serb" x="133.25" y="440.89">18</text>
<text class="serb" x="168.75" y="460.82">19</text>
<text class="serb" x="204.25" y="460.82">19</text>
<text class="serb" x="239.75" y="440.89">18</text>
<text class="serb" x="275.25" y="440.89">18</text>
<text class="serb" x="310.75" y="401.03">16</text>
<text class="serb" x="346.25" y="401.03">16</text>
<text class="serb" x="381.75" y="420.96">17</text>
<text class="serb" x="417.25" y="440.89">18</text>
<text class="serb" x="452.75" y="440.89">18</text>
<text class="serb" x="488.25" y="420.96">17</text>
<text class="serb" x="523.75" y="381.1">15</text>
<text class="serb" x="559.25" y="381.1">15</text>
<text class="serb" x="594.75" y="361.17">14</text>
<text class="serb" x="630.25" y="381.1">15</text>
<text class="serb" x="665.75" y="381.1">15</text>
<text class="serb" x="701.25" y="401.03">16</text>
<text class="serb" x="736.75" y="401.03">16</text>
<text class="serb" x="772.25" y="401.03">16</text>
<text class="serb" x="807.75" y="401.03">16</text>
<text class="serb" x="843.25" y="420.96">17</text>
<text class="serb" x="878.75" y="401.03">16</text>
<text class="serb" x="914.25" y="401.03">16</text>
<text class="serb" x="949.75" y="401.03">16</text>
<text class="serb" x="985.25" y="381.1">15</text>
<text class="serb" x="1020.75" y="401.03">16</text>
<text class="serb" x="1056.25" y="401.03">16</text>
<text class="serb" x="1091.75" y="401.03">16</text>
<text class="serb" x="1127.25" y="420.96">17</text>
<text class="serb" x="1162.75" y="420.96">17</text>
<text class="serb" x="1198.25" y="420.96">17</text>
<text class="serb" x="1233.75" y="420.96">17</text>
<text class="serb" x="1269.25" y="440.89">18</text>
</g>
<g class="serb" font-size="20.3" fill="#000000" text-anchor="middle" letter-spacing="-0.4">
<text class="serb" x="97.55" y="361.47">14</text>
<text class="serb" x="133.05" y="361.47">14</text>
<text class="serb" x="168.55" y="381.4">15</text>
<text class="serb" x="204.05" y="421.26">17</text>
<text class="serb" x="239.55" y="421.26">17</text>
<text class="serb" x="275.05" y="401.33">16</text>
<text class="serb" x="310.55" y="441.19">18</text>
<text class="serb" x="346.05" y="461.12">19</text>
<text class="serb" x="381.55" y="461.12">19</text>
<text class="serb" x="417.05" y="461.12">19</text>
<text class="serb" x="452.55" y="461.12">19</text>
<text class="serb" x="488.05" y="461.12">19</text>
<text class="serb" x="523.55" y="461.12">19</text>
<text class="serb" x="559.05" y="461.12">19</text>
<text class="serb" x="594.55" y="461.12">19</text>
<text class="serb" x="630.05" y="441.19">18</text>
<text class="serb" x="665.55" y="441.19">18</text>
<text class="serb" x="701.05" y="441.19">18</text>
<text class="serb" x="736.55" y="461.12">19</text>
<text class="serb" x="772.05" y="421.26">17</text>
<text class="serb" x="807.55" y="421.26">17</text>
<text class="serb" x="843.05" y="401.33">16</text>
<text class="serb" x="878.55" y="421.26">17</text>
<text class="serb" x="914.05" y="421.26">17</text>
<text class="serb" x="949.55" y="421.26">17</text>
<text class="serb" x="985.05" y="421.26">17</text>
<text class="serb" x="1020.55" y="421.26">17</text>
<text class="serb" x="1056.05" y="421.26">17</text>
<text class="serb" x="1091.55" y="421.26">17</text>
<text class="serb" x="1127.05" y="381.4">15</text>
<text class="serb" x="1162.55" y="381.4">15</text>
<text class="serb" x="1198.05" y="401.33">16</text>
<text class="serb" x="1233.55" y="401.33">16</text>
<text class="serb" x="1269.05" y="401.33">16</text>
</g>
<g class="ser" font-size="15" fill="#ffffff" text-anchor="middle">
<text class="ser" x="97.75" y="379.9">15</text>
<text class="ser" x="133.25" y="399.83">16</text>
<text class="ser" x="168.75" y="359.97">14</text>
<text class="ser" x="204.25" y="359.97">14</text>
<text class="ser" x="239.75" y="320.11">12</text>
<text class="ser" x="275.25" y="359.97">14</text>
<text class="ser" x="310.75" y="359.97">14</text>
<text class="ser" x="346.25" y="359.97">14</text>
<text class="ser" x="381.75" y="379.9">15</text>
<text class="ser" x="417.25" y="379.9">15</text>
<text class="ser" x="452.75" y="399.83">16</text>
<text class="ser" x="488.25" y="379.9">15</text>
<text class="ser" x="523.75" y="399.83">16</text>
<text class="ser" x="559.25" y="419.76">17</text>
<text class="ser" x="594.75" y="439.69">18</text>
<text class="ser" x="630.25" y="459.62">19</text>
<text class="ser" x="665.75" y="459.62">19</text>
<text class="ser" x="701.25" y="459.62">19</text>
<text class="ser" x="736.75" y="419.76">17</text>
<text class="ser" x="772.25" y="439.69">18</text>
<text class="ser" x="807.75" y="459.62">19</text>
<text class="ser" x="843.25" y="439.69">18</text>
<text class="ser" x="878.75" y="459.62">19</text>
<text class="ser" x="914.25" y="459.62">19</text>
<text class="ser" x="949.75" y="479.55">20</text>
<text class="ser" x="985.25" y="479.55">20</text>
<text class="ser" x="1020.75" y="459.62">19</text>
<text class="ser" x="1056.25" y="439.69">18</text>
<text class="ser" x="1091.75" y="439.69">18</text>
<text class="ser" x="1127.25" y="439.69">18</text>
<text class="ser" x="1162.75" y="499.48">21</text>
<text class="ser" x="1198.25" y="439.69">18</text>
<text class="ser" x="1233.75" y="439.69">18</text>
<text class="ser" x="1269.25" y="419.76">17</text>
</g>
<g class="serb" font-size="20.6" fill="#000000" text-anchor="middle" letter-spacing="-0.4">
<text class="serb" x="97.55" y="222.06">7</text>
<text class="serb" x="133.05" y="202.13">6</text>
<text class="serb" x="168.55" y="202.13">6</text>
<text class="serb" x="204.05" y="202.13">6</text>
<text class="serb" x="239.55" y="182.2">5</text>
<text class="serb" x="275.05" y="222.06">7</text>
<text class="serb" x="310.55" y="261.92">9</text>
<text class="serb" x="346.05" y="321.71">12</text>
<text class="serb" x="381.55" y="321.71">12</text>
<text class="serb" x="417.05" y="321.71">12</text>
<text class="serb" x="452.55" y="361.57">14</text>
<text class="serb" x="488.05" y="341.64">13</text>
<text class="serb" x="523.55" y="361.57">14</text>
<text class="serb" x="559.05" y="361.57">14</text>
<text class="serb" x="594.55" y="341.64">13</text>
<text class="serb" x="630.05" y="361.57">14</text>
<text class="serb" x="665.55" y="341.64">13</text>
<text class="serb" x="701.05" y="361.57">14</text>
<text class="serb" x="736.55" y="361.57">14</text>
<text class="serb" x="772.05" y="341.64">13</text>
<text class="serb" x="807.55" y="301.78">11</text>
<text class="serb" x="843.05" y="301.78">11</text>
<text class="serb" x="878.55" y="281.85">10</text>
<text class="serb" x="914.05" y="301.78">11</text>
<text class="serb" x="949.55" y="241.99">8</text>
<text class="serb" x="985.05" y="301.78">11</text>
<text class="serb" x="1020.55" y="281.85">10</text>
<text class="serb" x="1056.05" y="261.92">9</text>
<text class="serb" x="1091.55" y="281.85">10</text>
<text class="serb" x="1127.05" y="281.85">10</text>
<text class="serb" x="1162.55" y="241.99">8</text>
<text class="serb" x="1198.05" y="321.71">12</text>
<text class="serb" x="1233.55" y="321.71">12</text>
<text class="serb" x="1269.05" y="321.71">12</text>
</g>
<g class="serb" font-size="20.6" fill="#000000" text-anchor="middle" letter-spacing="-0.4">
<text class="serb" x="97.55" y="202.13">6</text>
<text class="serb" x="133.05" y="182.2">5</text>
<text class="serb" x="168.55" y="182.2">5</text>
<text class="serb" x="204.05" y="182.2">5</text>
<text class="serb" x="239.55" y="222.06">7</text>
<text class="serb" x="275.05" y="261.92">9</text>
<text class="serb" x="310.55" y="281.85">10</text>
<text class="serb" x="346.05" y="261.92">9</text>
<text class="serb" x="381.55" y="241.99">8</text>
<text class="serb" x="417.05" y="222.06">7</text>
<text class="serb" x="452.55" y="261.92">9</text>
<text class="serb" x="488.05" y="241.99">8</text>
<text class="serb" x="523.55" y="261.92">9</text>
<text class="serb" x="559.05" y="261.92">9</text>
<text class="serb" x="594.55" y="261.92">9</text>
<text class="serb" x="630.05" y="241.99">8</text>
<text class="serb" x="665.55" y="241.99">8</text>
<text class="serb" x="701.05" y="281.85">10</text>
<text class="serb" x="736.55" y="301.78">11</text>
<text class="serb" x="772.05" y="321.71">12</text>
<text class="serb" x="807.55" y="341.64">13</text>
<text class="serb" x="843.05" y="341.64">13</text>
<text class="serb" x="878.55" y="341.64">13</text>
<text class="serb" x="914.05" y="341.64">13</text>
<text class="serb" x="949.55" y="341.64">13</text>
<text class="serb" x="985.05" y="361.57">14</text>
<text class="serb" x="1020.55" y="361.57">14</text>
<text class="serb" x="1056.05" y="361.57">14</text>
<text class="serb" x="1091.55" y="361.57">14</text>
<text class="serb" x="1127.05" y="401.43">16</text>
<text class="serb" x="1162.55" y="401.43">16</text>
<text class="serb" x="1198.05" y="381.5">15</text>
<text class="serb" x="1233.55" y="381.5">15</text>
<text class="serb" x="1269.05" y="381.5">15</text>
</g>
<g class="ser" font-size="20.5" fill="#ffffff" text-anchor="middle">
<text class="ser" x="97.75" y="142.34">3</text>
<text class="ser" x="133.25" y="142.34">3</text>
<text class="ser" x="168.75" y="142.34">3</text>
<text class="ser" x="204.25" y="142.34">3</text>
<text class="ser" x="239.75" y="142.34">3</text>
<text class="ser" x="275.25" y="142.34">3</text>
<text class="ser" x="310.75" y="142.34">3</text>
<text class="ser" x="346.25" y="142.34">3</text>
<text class="ser" x="381.75" y="142.34">3</text>
<text class="ser" x="417.25" y="122.41">2</text>
<text class="ser" x="452.75" y="162.27">4</text>
<text class="ser" x="488.25" y="162.27">4</text>
<text class="ser" x="523.75" y="162.27">4</text>
<text class="ser" x="559.25" y="122.41">2</text>
<text class="ser" x="594.75" y="142.34">3</text>
<text class="ser" x="630.25" y="142.34">3</text>
<text class="ser" x="665.75" y="142.34">3</text>
<text class="ser" x="701.25" y="162.27">4</text>
<text class="ser" x="736.75" y="162.27">4</text>
<text class="ser" x="772.25" y="162.27">4</text>
<text class="ser" x="807.75" y="162.27">4</text>
<text class="ser" x="843.25" y="162.27">4</text>
<text class="ser" x="878.75" y="162.27">4</text>
<text class="ser" x="914.25" y="162.27">4</text>
<text class="ser" x="949.75" y="162.27">4</text>
<text class="ser" x="985.25" y="182.2">5</text>
<text class="ser" x="1020.75" y="182.2">5</text>
<text class="ser" x="1056.25" y="182.2">5</text>
<text class="ser" x="1091.75" y="182.2">5</text>
<text class="ser" x="1127.25" y="182.2">5</text>
<text class="ser" x="1162.75" y="182.2">5</text>
<text class="ser" x="1198.25" y="182.2">5</text>
<text class="ser" x="1233.75" y="222.06">7</text>
<text class="ser" x="1269.25" y="182.2">5</text>
</g>
</svg>
</body></html>
